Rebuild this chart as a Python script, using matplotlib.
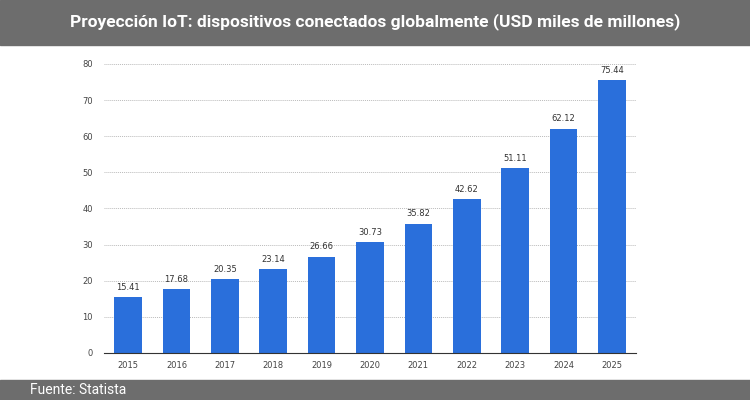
import matplotlib
matplotlib.use("Agg")
import matplotlib.pyplot as plt
from matplotlib.patches import Rectangle

years = ["2015","2016","2017","2018","2019","2020","2021","2022","2023","2024","2025"]
values = [15.41,17.68,20.35,23.14,26.66,30.73,35.82,42.62,51.11,62.12,75.44]
title = "Proyección IoT: dispositivos conectados globalmente (USD miles de millones)"
source = "Fuente: Statista"

fig = plt.figure(figsize=(7.5,4), dpi=100)
fig.patches.append(Rectangle((0,400-45),750,45, transform=None, color="#6d6d6d", zorder=0))
fig.patches.append(Rectangle((0,0),750,20, transform=None, color="#6d6d6d", zorder=0))
fig.text(0.5, 1-22/400, title, ha="center", va="center", color="white", fontsize=12.5, fontweight="bold", family="Roboto")
fig.text(30/750, 10/400, source, ha="left", va="center", color="white", fontsize=10, family="Roboto")

ax = fig.add_axes([104/750, 47/400, 532/750, 289/400])
x = range(len(years))
ax.bar(x, values, width=0.57, color="#2a6fdb", zorder=2)
for i, v in zip(x, values):
    ax.text(i, v+1.5, f"{v:.2f}", ha="center", va="bottom", fontsize=6, color="#333333")
ax.set_xticks(list(x)); ax.set_xticklabels(years, fontsize=6, color="#444444")
ax.set_ylim(0,80); ax.set_yticks(range(0,81,10))
ax.tick_params(axis="y", labelsize=6, colors="#444444", length=0, pad=8)
ax.tick_params(axis="x", length=0, pad=6)
ax.set_xlim(-0.5, len(years)-0.5)
ax.grid(axis="y", linestyle=(0,(1,1)), color="#bbbbbb", linewidth=0.7, zorder=0)
for s in ["top","right","left"]:
    ax.spines[s].set_visible(False)
ax.spines["bottom"].set_color("#333333")
fig.savefig("out.png", dpi=100)
